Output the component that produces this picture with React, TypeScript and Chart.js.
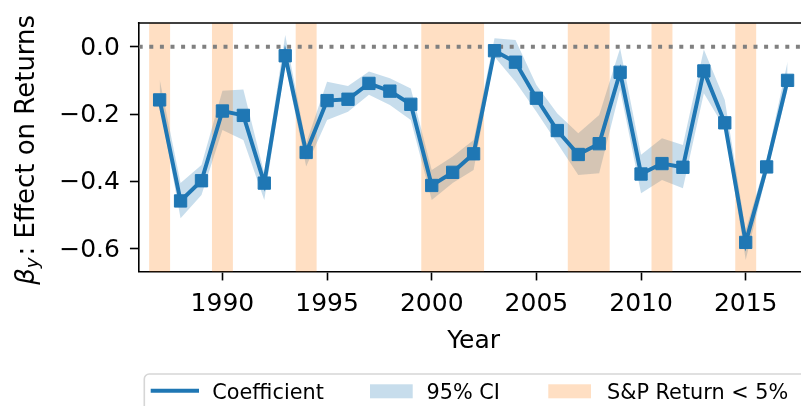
import { useEffect, useRef } from 'react';
import { Chart, registerables } from 'chart.js';

Chart.register(...registerables);

// ---------------- data ----------------
const years = [1987, 1988, 1989, 1990, 1991, 1992, 1993, 1994, 1995, 1996, 1997, 1998, 1999, 2000, 2001, 2002,
  2003, 2004, 2005, 2006, 2007, 2008, 2009, 2010, 2011, 2012, 2013, 2014, 2015, 2016, 2017];

const coefficient = [-0.158, -0.458, -0.398, -0.191, -0.204, -0.405, -0.027, -0.314, -0.160, -0.156, -0.109,
  -0.132, -0.171, -0.412, -0.373, -0.318, -0.012, -0.046, -0.153, -0.249, -0.320, -0.288, -0.076, -0.378,
  -0.347, -0.358, -0.072, -0.226, -0.581, -0.357, -0.100];

const ciUpper = [-0.097, -0.405, -0.351, -0.131, -0.127, -0.376, 0.035, -0.287, -0.104, -0.117, -0.074,
  -0.094, -0.124, -0.366, -0.326, -0.277, 0.025, 0.020, -0.114, -0.198, -0.257, -0.203, -0.005, -0.321,
  -0.272, -0.292, -0.008, -0.158, -0.544, -0.336, -0.045];

const ciLower = [-0.170, -0.509, -0.440, -0.247, -0.277, -0.455, -0.054, -0.356, -0.218, -0.193, -0.143,
  -0.173, -0.218, -0.455, -0.405, -0.366, -0.030, -0.104, -0.193, -0.287, -0.381, -0.376, -0.128, -0.435,
  -0.396, -0.420, -0.138, -0.242, -0.633, -0.376, -0.128];

const lowReturnYears = [1987, 1990, 1994, 2000, 2001, 2002, 2007, 2008, 2011, 2015];

const xTicks = [1990, 1995, 2000, 2005, 2010, 2015];
const yTicks = [-0.6, -0.4, -0.2, 0.0];

const legendLabels = ['Coefficient', '95% CI', 'S&P Return < 5%'];
const xTitle = 'Year';
const yTitleParts = ['β', 'y', ': Effect on Returns'];

// ---------------- style ----------------
const C0 = '#1f77b4';
const C0_FILL = 'rgba(31,119,180,0.25)';
const C1_FILL = 'rgba(255,127,14,0.25)';
const FONT = "'DejaVu Sans'";
const W = 830;
const H = 406;
const AREA = { left: 138.7, top: 23, right: 808.5, bottom: 271.7 };

const decorPlugin = {
  id: 'decor',
  beforeDatasetsDraw(chart: any) {
    const { ctx, chartArea: a, scales } = chart;
    const x = scales.x;
    const y = scales.y;
    ctx.save();
    ctx.beginPath();
    ctx.rect(a.left, a.top, a.right - a.left, a.bottom - a.top);
    ctx.clip();
    // merge consecutive years into runs
    const sorted = [...lowReturnYears].sort((p, q) => p - q);
    const runs: number[][] = [];
    for (const yr of sorted) {
      const last = runs[runs.length - 1];
      if (last && yr - last[1] === 1) last[1] = yr;
      else runs.push([yr, yr]);
    }
    ctx.fillStyle = C1_FILL;
    for (const [s, e] of runs) {
      const x0 = x.getPixelForValue(s - 0.5);
      const x1 = x.getPixelForValue(e + 0.5);
      ctx.fillRect(x0, a.top, x1 - x0, a.bottom - a.top);
    }
    // zero reference line
    const y0 = y.getPixelForValue(0);
    ctx.strokeStyle = '#808080';
    ctx.lineWidth = 4;
    ctx.setLineDash([4, 6.6]);
    ctx.beginPath();
    ctx.moveTo(a.left, y0);
    ctx.lineTo(a.right, y0);
    ctx.stroke();
    ctx.restore();
  },
  afterDraw(chart: any) {
    const { ctx, chartArea: a } = chart;
    ctx.save();
    // top spine
    ctx.strokeStyle = '#000';
    ctx.lineWidth = 1.6;
    ctx.beginPath();
    ctx.moveTo(a.left - 0.8, a.top);
    ctx.lineTo(a.right + 0.8, a.top);
    ctx.stroke();

    // x title
    ctx.fillStyle = '#000';
    ctx.font = `25px ${FONT}`;
    ctx.textAlign = 'center';
    ctx.textBaseline = 'alphabetic';
    ctx.fillText(xTitle, (a.left + a.right) / 2, 347.7);

    // y title (mathtext-like)
    ctx.save();
    ctx.translate(33.6, (a.top + a.bottom) / 2 + 2.5);
    ctx.rotate(-Math.PI / 2);
    const parts = [
      { t: yTitleParts[0], f: `italic 26px ${FONT}`, dy: 0, gap: 0 },
      { t: yTitleParts[1], f: `italic 18.2px ${FONT}`, dy: 4.8, gap: 2 },
      { t: yTitleParts[2], f: `26px ${FONT}`, dy: 0, gap: 0 },
    ];
    let total = 0;
    const widths = parts.map((p) => {
      ctx.font = p.f;
      const w = ctx.measureText(p.t).width + p.gap;
      total += w;
      return w;
    });
    let cx = -total / 2;
    ctx.textAlign = 'left';
    parts.forEach((p, i) => {
      ctx.font = p.f;
      ctx.fillText(p.t, cx, p.dy);
      cx += widths[i];
    });
    ctx.restore();

    // legend
    ctx.fillStyle = 'rgba(255,255,255,0.8)';
    ctx.strokeStyle = '#d6d6d6';
    ctx.lineWidth = 1.6;
    ctx.beginPath();
    (ctx as any).roundRect(144.3, 374, W + 40 - 144.3, 80, 5);
    ctx.fill();
    ctx.stroke();

    // handle 1: line
    ctx.strokeStyle = C0;
    ctx.lineWidth = 4;
    ctx.beginPath();
    ctx.moveTo(150.7, 390.7);
    ctx.lineTo(199, 390.7);
    ctx.stroke();
    // handle 2: CI patch
    ctx.fillStyle = C0_FILL;
    ctx.fillRect(370, 384.3, 42.7, 14);
    // handle 3: span patch
    ctx.fillStyle = C1_FILL;
    ctx.fillRect(548.3, 384.3, 42.7, 14);

    ctx.fillStyle = '#000';
    ctx.font = `20.8px ${FONT}`;
    ctx.textAlign = 'left';
    ctx.textBaseline = 'alphabetic';
    ctx.fillText(legendLabels[0], 212.3, 398.5);
    ctx.fillText(legendLabels[1], 426.5, 398.5);
    ctx.fillText(legendLabels[2], 607, 398.5);
    ctx.restore();
  },
};

export default function App() {
  const ref = useRef<HTMLCanvasElement>(null);

  useEffect(() => {
    if (!ref.current) return;
    Chart.defaults.font.family = FONT;
    Chart.defaults.color = '#000';

    const chart = new Chart(ref.current, {
      type: 'line',
      data: {
        datasets: [
          {
            label: legendLabels[0],
            data: years.map((yr, i) => ({ x: yr, y: coefficient[i] })),
            borderColor: C0,
            backgroundColor: C0,
            borderWidth: 4,
            tension: 0,
            fill: false,
            pointStyle: 'rect',
            pointRadius: 8.7,
            pointBackgroundColor: C0,
            pointBorderColor: C0,
            pointBorderWidth: 1,
          },
          {
            label: 'upper',
            data: years.map((yr, i) => ({ x: yr, y: ciUpper[i] })),
            borderColor: 'rgba(0,0,0,0)',
            backgroundColor: C0_FILL,
            borderWidth: 0,
            pointRadius: 0,
            tension: 0,
            fill: '+1',
          },
          {
            label: 'lower',
            data: years.map((yr, i) => ({ x: yr, y: ciLower[i] })),
            borderColor: 'rgba(0,0,0,0)',
            backgroundColor: 'rgba(0,0,0,0)',
            borderWidth: 0,
            pointRadius: 0,
            tension: 0,
            fill: false,
          },
        ],
      },
      options: {
        animation: false,
        responsive: false,
        events: [],
        layout: {
          autoPadding: false,
          padding: { left: 0, top: AREA.top, right: W - AREA.right, bottom: 0 },
        },
        plugins: {
          legend: { display: false },
          tooltip: { enabled: false },
          filler: { drawTime: 'beforeDatasetsDraw' },
        },
        scales: {
          x: {
            type: 'linear',
            min: 1986,
            max: 2018,
            afterBuildTicks: (axis: any) => {
              axis.ticks = xTicks.map((v) => ({ value: v }));
            },
            afterFit: (axis: any) => {
              axis.height = H - AREA.bottom;
              axis.paddingLeft = 0;
              axis.paddingRight = 0;
            },
            grid: {
              display: true,
              drawOnChartArea: false,
              drawTicks: true,
              tickLength: 8.75,
              tickWidth: 1.6,
              tickColor: '#000',
            },
            border: { display: true, color: '#000', width: 1.6 },
            ticks: {
              font: { size: 25, family: FONT },
              color: '#000',
              padding: 9,
              maxRotation: 0,
              autoSkip: false,
              callback: (v: any) => String(v),
            },
          },
          y: {
            type: 'linear',
            min: -0.668,
            max: 0.0703,
            afterBuildTicks: (axis: any) => {
              axis.ticks = yTicks.map((v) => ({ value: v }));
            },
            afterFit: (axis: any) => {
              axis.width = AREA.left;
              axis.paddingTop = 0;
              axis.paddingBottom = 0;
            },
            grid: {
              display: true,
              drawOnChartArea: false,
              drawTicks: true,
              tickLength: 8.75,
              tickWidth: 1.6,
              tickColor: '#000',
            },
            border: { display: true, color: '#000', width: 1.6 },
            ticks: {
              font: { size: 25, family: FONT },
              color: '#000',
              padding: 10,
              labelOffset: 1.5,
              autoSkip: false,
              callback: (v: any) => {
                const n = Number(v);
                const s = Math.abs(n).toFixed(1);
                return n < -1e-9 ? '\u2212' + s : s;
              },
            },
          },
        },
      },
      plugins: [decorPlugin],
    } as any);

    return () => chart.destroy();
  }, []);

  return (
    <div style={{ position: 'fixed', left: 0, top: 0, width: 801, height: 406, overflow: 'hidden', background: '#fff' }}>
      <canvas ref={ref} width={W} height={H} style={{ display: 'block', width: W, height: H }} />
    </div>
  );
}
